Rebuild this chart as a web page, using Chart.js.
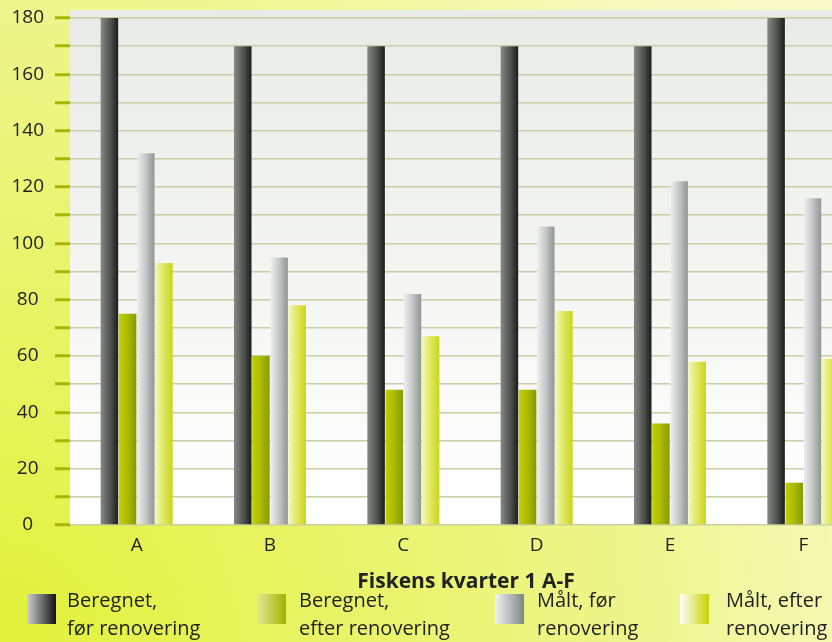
<!DOCTYPE html>
<html>
<head>
<meta charset="utf-8">
<script src="https://cdn.jsdelivr.net/npm/chart.js@4"></script>
<style>
  html, body { margin: 0; padding: 0; }
  body { width: 832px; height: 642px; overflow: hidden; }
  #wrap {
    position: relative; width: 832px; height: 642px; overflow: hidden;
    background: radial-gradient(circle at 0px 642px, #e2f23a 0px, #e8f468 350px, #eef68e 650px, #f6fabf 900px, #f8fbcc 1100px);
    font-family: "Open Sans", Lato, sans-serif; color: #222222;
  }
  #c { position: absolute; left: 0; top: 0; }
  #xtitle {
    position: absolute; top: 567px; left: 0; width: 932px; text-align: center;
    font-weight: bold; font-size: 21px; line-height: 26px;
  }
  .sw { position: absolute; width: 29px; height: 30px; top: 594px; }
  .lbl { position: absolute; font-size: 20px; line-height: 28px; white-space: nowrap; top: 586px; }
</style>
</head>
<body>
<div id="wrap">
  <canvas id="c" width="870" height="642"></canvas>
  <div id="xtitle"></div>
  <div id="legend"></div>
</div>
<script>
// Quarters of the fish district
const categories = ['A', 'B', 'C', 'D', 'E', 'F'];

// Values per quarter
const beregnetFoer  = [180, 170, 170, 170, 170, 180];
const beregnetEfter = [75, 60, 48, 48, 36, 15];
const maaltFoer     = [132, 95, 82, 106, 122, 116];
const maaltEfter    = [93, 78, 67, 76, 58, 59];

// Series names (two lines each in the legend)
const seriesNames = [
  ['Beregnet,', 'før renovering'],
  ['Beregnet,', 'efter renovering'],
  ['Målt, før', 'renovering'],
  ['Målt, efter', 'renovering']
];

// Axis settings
const yMin = 0, yMax = 180, yStep = 10, yLabelStep = 20;
const xTitle = 'Fiskens kvarter 1 A-F';

// Horizontal shading of each series' bars (left -> right)
const barStops = [
  ['#858a87', '#545956', '#1a1d1c'],
  ['#c0d000', '#a9ba00', '#8a9900'],
  ['#eef0ef', '#c4c8c7', '#8f9594'],
  ['#f4f7b6', '#dfe85c', '#c8d61e']
];
const swatchStops = [
  ['#cfd2d2', '#111111'],
  ['#e2ea92', '#a2b200'],
  ['#f2f4f4', '#7c8584'],
  ['#ffffff', '#c6d300']
];
const legendX = [27, 257, 495, 680];
const legendTextX = [67, 299, 537, 726];

document.getElementById('xtitle').textContent = xTitle;
const legend = document.getElementById('legend');
seriesNames.forEach((lines, i) => {
  const sw = document.createElement('div');
  sw.className = 'sw';
  sw.style.left = legendX[i] + 'px';
  sw.style.background = 'linear-gradient(to right, ' + swatchStops[i].join(', ') + ')';
  legend.appendChild(sw);
  const lb = document.createElement('div');
  lb.className = 'lbl';
  lb.style.left = legendTextX[i] + 'px';
  lines.forEach((t, k) => {
    if (k) lb.appendChild(document.createElement('br'));
    lb.appendChild(document.createTextNode(t));
  });
  legend.appendChild(lb);
});

function gradientFor(ctx, x0, x1, stops) {
  const g = ctx.createLinearGradient(x0, 0, x1, 0);
  stops.forEach((c, k) => g.addColorStop(k / (stops.length - 1), c));
  return g;
}

// Pale panel behind the plot
const panelPlugin = {
  id: 'panel',
  beforeDraw(chart) {
    const { ctx, chartArea: a } = chart;
    const top = a.top - 8;
    const g = ctx.createLinearGradient(0, top, 0, a.bottom);
    g.addColorStop(0, '#e8ebe8');
    g.addColorStop(0.5, '#f4f5f3');
    g.addColorStop(1, '#ffffff');
    ctx.save();
    ctx.fillStyle = g;
    ctx.fillRect(a.left, top, a.right - a.left, a.bottom - top);
    ctx.restore();
  }
};

// Cylinder-like shading across every bar
const barShadePlugin = {
  id: 'barShade',
  beforeDatasetsDraw(chart) {
    const ctx = chart.ctx;
    chart.data.datasets.forEach((ds, i) => {
      const meta = chart.getDatasetMeta(i);
      meta.data.forEach(bar => {
        const left = bar.x - bar.width / 2;
        bar.options.backgroundColor = gradientFor(ctx, left, left + bar.width, barStops[i]);
      });
    });
  }
};

function draw() {
  const datasets = [beregnetFoer, beregnetEfter, maaltFoer, maaltEfter].map((vals, i) => ({
    label: seriesNames[i].join(' '),
    data: vals,
    backgroundColor: () => barStops[i][1],
    borderWidth: 0,
    categoryPercentage: 0.545,
    barPercentage: 0.965
  }));

  new Chart(document.getElementById('c'), {
    type: 'bar',
    data: { labels: categories, datasets },
    plugins: [panelPlugin, barShadePlugin],
    options: {
      responsive: false,
      animation: false,
      layout: { padding: { top: 18, bottom: 72, left: 0, right: 0 } },
      plugins: { legend: { display: false }, tooltip: { enabled: false } },
      scales: {
        x: {
          grid: { display: false, drawTicks: false },
          border: { display: false },
          ticks: { color: '#222222', padding: 9, font: { family: 'Open Sans', size: 19 } },
          afterFit: s => { s.height = 45; s.paddingLeft = 0; s.paddingRight = 0; }
        },
        y: {
          min: yMin, max: yMax,
          ticks: {
            stepSize: yStep, autoSkip: false,
            callback: v => (v % yLabelStep === 0 ? v : ''),
            crossAlign: 'center', padding: 11,
            color: '#222222', font: { family: 'Open Sans', size: 19 }
          },
          grid: {
            color: '#cacea2', lineWidth: 1.5,
            tickColor: '#a9b600', tickWidth: 3, tickLength: 15
          },
          border: { display: false },
          afterFit: s => { s.width = 70; s.paddingTop = 0; s.paddingBottom = 0; }
        }
      }
    }
  });
}

Promise.all([
  document.fonts.load('19px "Open Sans"'),
  document.fonts.load('bold 21px "Open Sans"')
]).then(draw, draw);
</script>
</body>
</html>
